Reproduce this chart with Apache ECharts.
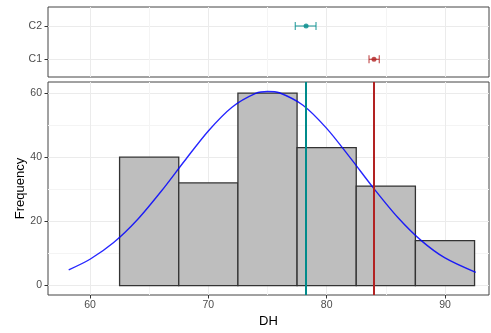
<!DOCTYPE html>
<html>
<head>
<meta charset="utf-8">
<script src="https://cdn.jsdelivr.net/npm/echarts@6/dist/echarts.min.js"></script>
<style>
  html, body { margin: 0; padding: 0; background: #ffffff; }
  #chart { width: 491px; height: 333px; }
</style>
</head>
<body>
<div id="chart"></div>
<script>
// Group means with their intervals (top panel) and the same means as reference lines
const groups = ['C1', 'C2'];
const groupMeans = [84.0, 78.26];
const groupLow = [83.58, 77.35];
const groupHigh = [84.45, 79.1];

// Histogram of DH
const binStart = [62.5, 67.5, 72.5, 77.5, 82.5, 87.5];
const binEnd = [67.5, 72.5, 77.5, 82.5, 87.5, 92.5];
const binCount = [40, 32, 60, 43, 31, 14];

// Fitted density curve, scaled to counts
const curveX = [58.2, 60, 62, 64, 66, 68, 70, 72, 74, 75, 76, 78, 80, 82, 84, 86, 88, 90, 92.6];
const curveY = [4.9, 8.2, 13.4, 20.5, 29.3, 38.9, 48.2, 55.6, 59.9, 60.5, 60.1, 56.2, 49.0, 39.8, 30.2, 21.3, 14.0, 8.6, 4.1];

// Axis ticks
const xTicks = [60, 70, 80, 90];
const xMinorTicks = [65, 75, 85];
const yTicks = [0, 20, 40, 60];
const yMinorTicks = [10, 30, 50];
const groupTicks = [1, 2];

const groupPointColors = ['#B22222', '#008B8B'];
const groupBarColors = ['rgba(178,34,34,0.7)', 'rgba(0,139,139,0.7)'];

const X_MIN = 56.45, X_MAX = 93.72;
const Y_MIN = -2.95, Y_MAX = 63.45;
const G_MIN = 0.47, G_MAX = 2.57;

const majorGrid = { show: true, lineStyle: { color: '#EBEBEB', width: 1 } };
const minorGrid = { show: true, lineStyle: { color: '#F4F4F4', width: 1 } };
const tickStyle = { show: true, length: 3.5, lineStyle: { color: '#333333', width: 1 } };
const labelFont = { color: '#4D4D4D', fontSize: 10.5, fontFamily: 'Liberation Sans, Arial, sans-serif' };

function hiddenAxis(extra) {
  return Object.assign({
    type: 'value',
    axisLine: { show: false, onZero: false },
    axisTick: { show: false },
    axisLabel: { show: false },
    splitLine: { show: false }
  }, extra);
}

const chart = echarts.init(document.getElementById('chart'), null, { renderer: 'canvas' });

chart.setOption({
  animation: false,
  backgroundColor: '#ffffff',
  grid: [
    { left: 48, top: 7, width: 441, height: 70, show: true, borderColor: '#444444', borderWidth: 1, backgroundColor: 'transparent' },
    { left: 48, top: 82, width: 441, height: 213, show: true, borderColor: '#444444', borderWidth: 1, backgroundColor: 'transparent' }
  ],
  xAxis: [
    hiddenAxis({ gridIndex: 0, min: X_MIN, max: X_MAX,
      axisTick: { show: false, customValues: xTicks },
      axisLabel: { show: false, customValues: xTicks },
      splitLine: majorGrid }),
    hiddenAxis({ gridIndex: 1, min: X_MIN, max: X_MAX, position: 'bottom',
      axisTick: Object.assign({ customValues: xTicks }, tickStyle),
      axisLabel: Object.assign({ show: true, customValues: xTicks, margin: 5 }, labelFont),
      splitLine: majorGrid,
      name: 'DH', nameLocation: 'middle', nameGap: 20, nameMoveOverlap: false,
      nameTextStyle: { color: '#000000', fontSize: 13, fontFamily: 'Liberation Sans, Arial, sans-serif' } }),
    hiddenAxis({ gridIndex: 0, min: X_MIN, max: X_MAX, position: 'top',
      axisTick: { show: false, customValues: xMinorTicks },
      splitLine: minorGrid }),
    hiddenAxis({ gridIndex: 1, min: X_MIN, max: X_MAX, position: 'top',
      axisTick: { show: false, customValues: xMinorTicks },
      splitLine: minorGrid })
  ],
  yAxis: [
    hiddenAxis({ gridIndex: 0, min: G_MIN, max: G_MAX,
      axisTick: Object.assign({ customValues: groupTicks }, tickStyle),
      axisLabel: Object.assign({ show: true, customValues: groupTicks, margin: 6,
        formatter: v => groups[Math.round(v) - 1] }, labelFont),
      splitLine: majorGrid }),
    hiddenAxis({ gridIndex: 1, min: Y_MIN, max: Y_MAX,
      axisTick: Object.assign({ customValues: yTicks }, tickStyle),
      axisLabel: Object.assign({ show: true, customValues: yTicks, margin: 6 }, labelFont),
      splitLine: majorGrid,
      name: 'Frequency', nameLocation: 'middle', nameGap: 21, nameRotate: 90, nameMoveOverlap: false,
      nameTextStyle: { color: '#000000', fontSize: 13, fontFamily: 'Liberation Sans, Arial, sans-serif' } }),
    hiddenAxis({ gridIndex: 1, min: Y_MIN, max: Y_MAX, position: 'right',
      axisTick: { show: false, customValues: yMinorTicks },
      splitLine: minorGrid })
  ],
  series: [
    {
      // interval bars for each group
      type: 'custom',
      xAxisIndex: 0, yAxisIndex: 0,
      z: 3,
      encode: { x: [0, 1], y: 2 },
      data: groups.map((g, i) => [groupLow[i], groupHigh[i], i + 1, i]),
      renderItem: function (params, api) {
        const y = api.value(2);
        const lo = api.coord([api.value(0), y]);
        const hi = api.coord([api.value(1), y]);
        const color = groupBarColors[api.value(3)];
        const cap = 4;
        const style = { stroke: color, lineWidth: 1.3, fill: null };
        return {
          type: 'group',
          children: [
            { type: 'line', shape: { x1: lo[0], y1: lo[1], x2: hi[0], y2: hi[1] }, style: style },
            { type: 'line', shape: { x1: lo[0], y1: lo[1] - cap, x2: lo[0], y2: lo[1] + cap }, style: style },
            { type: 'line', shape: { x1: hi[0], y1: hi[1] - cap, x2: hi[0], y2: hi[1] + cap }, style: style }
          ]
        };
      }
    },
    {
      type: 'scatter',
      xAxisIndex: 0, yAxisIndex: 0,
      z: 4,
      symbolSize: 5,
      data: groups.map((g, i) => ({ value: [groupMeans[i], i + 1], itemStyle: { color: groupPointColors[i] } }))
    },
    {
      // histogram bins
      type: 'custom',
      xAxisIndex: 1, yAxisIndex: 1,
      z: 2,
      encode: { x: [0, 1], y: 2 },
      data: binCount.map((c, i) => [binStart[i], binEnd[i], c]),
      renderItem: function (params, api) {
        const tl = api.coord([api.value(0), api.value(2)]);
        const br = api.coord([api.value(1), 0]);
        return {
          type: 'rect',
          shape: { x: tl[0], y: tl[1], width: br[0] - tl[0], height: br[1] - tl[1] },
          style: { fill: '#BEBEBE', stroke: '#333333', lineWidth: 1.3 }
        };
      }
    },
    {
      type: 'line',
      xAxisIndex: 1, yAxisIndex: 1,
      z: 3,
      smooth: 0.3,
      showSymbol: false,
      symbol: 'none',
      lineStyle: { color: 'rgba(0,0,255,0.85)', width: 1.4 },
      data: curveX.map((x, i) => [x, curveY[i]])
    },
    {
      // group means as vertical reference lines
      type: 'line',
      xAxisIndex: 1, yAxisIndex: 1,
      z: 4,
      data: [],
      markLine: {
        silent: true,
        symbol: ['none', 'none'],
        label: { show: false },
        data: groups.map((g, i) => ({
          xAxis: groupMeans[i],
          lineStyle: { color: groupPointColors[i], width: 2, type: 'solid' }
        }))
      }
    }
  ]
});
</script>
</body>
</html>
